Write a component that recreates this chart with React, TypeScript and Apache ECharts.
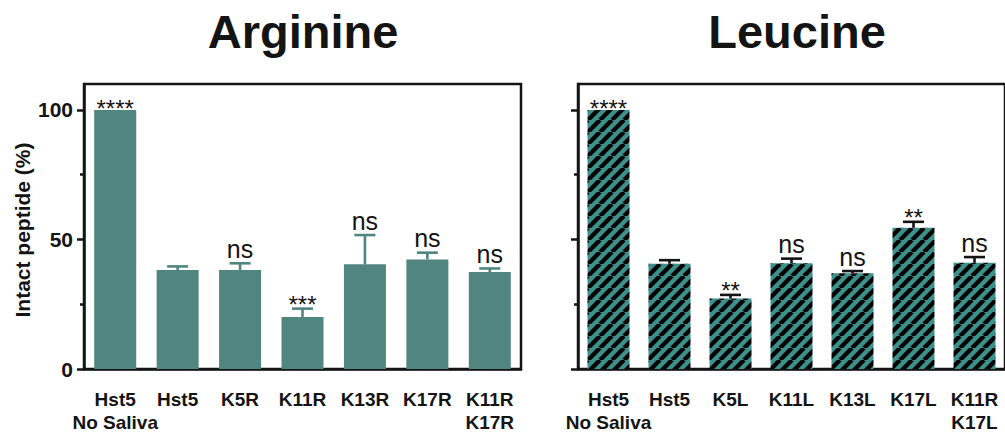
import React, { useEffect, useRef } from "react";
import * as echarts from "echarts";

const FONT = "'Liberation Sans', Arial, Helvetica, sans-serif";

const categoriesArg = ["Hst5\nNo Saliva", "Hst5", "K5R", "K11R", "K13R", "K17R", "K11R\nK17R"];
const valuesArg = [100, 38.2, 38.2, 20.1, 40.4, 42.3, 37.4];
const upperArg = [100, 39.6, 40.8, 23.3, 51.7, 44.9, 38.8];
const sigArg = ["****", "", "ns", "***", "ns", "ns", "ns"];

const categoriesLeu = ["Hst5\nNo Saliva", "Hst5", "K5L", "K11L", "K13L", "K17L", "K11R\nK17L"];
const valuesLeu = [100, 40.6, 27.2, 40.8, 37.0, 54.5, 41.0];
const upperLeu = [100, 42.0, 28.6, 42.6, 37.8, 56.8, 43.2];
const sigLeu = ["****", "", "**", "ns", "ns", "**", "ns"];

const majorTicks = [0, 50, 100];
const minorTicks = [25, 75];

const COLOR_ARG = "#508580";
const COLOR_LEU = "#3c918c";
const INK = "#141414";

function makeStripePattern(): any {
  const p = 12;
  const c = document.createElement("canvas");
  c.width = p;
  c.height = p;
  const ctx = c.getContext("2d");
  if (!ctx) return COLOR_LEU;
  ctx.fillStyle = COLOR_LEU;
  ctx.fillRect(0, 0, p, p);
  ctx.strokeStyle = "#050505";
  ctx.lineWidth = 4.4;
  for (let k = -1; k <= 1; k++) {
    ctx.beginPath();
    ctx.moveTo(k * p, p);
    ctx.lineTo(k * p + p, 0);
    ctx.stroke();
  }
  return { image: c, repeat: "repeat" };
}

function errRender(sigs: string[], errColor: string) {
  return (params: any, api: any) => {
    const i = api.value(0);
    const v = api.value(1);
    const up = api.value(2);
    const base = api.coord([i, v]);
    const top = api.coord([i, up]);
    const children: any[] = [];
    if (up > v) {
      children.push({
        type: "line",
        shape: { x1: top[0], y1: base[1], x2: top[0], y2: top[1] },
        style: { stroke: errColor, lineWidth: 2.6 },
      });
      children.push({
        type: "line",
        shape: { x1: top[0] - 10.5, y1: top[1], x2: top[0] + 10.5, y2: top[1] },
        style: { stroke: errColor, lineWidth: 2.6 },
      });
    }
    const s = sigs[params.dataIndex];
    if (s) {
      const isStar = s.indexOf("*") >= 0;
      let dy = -2;
      if (isStar) dy = up > v ? 8 : 11;
      children.push({
        type: "text",
        style: {
          text: s,
          x: top[0],
          y: top[1] + dy,
          textAlign: "center",
          textVerticalAlign: "bottom",
          fill: INK,
          font: `${isStar ? 24 : 25}px ${FONT}`,
        },
      });
    }
    return { type: "group", children };
  };
}

export default function App() {
  const ref = useRef<HTMLDivElement>(null);
  useEffect(() => {
    if (!ref.current) return;
    const chart = echarts.init(ref.current, null, { renderer: "svg" });
    const gridBase = {
      top: 84,
      width: 437,
      height: 286,
      show: true,
      borderColor: INK,
      borderWidth: 2.5,
      backgroundColor: "transparent",
      containLabel: false,
    };
    const xAxisBase = (cats: string[], gi: number) => ({
      type: "category",
      gridIndex: gi,
      data: cats,
      axisLine: { lineStyle: { color: INK, width: 2.5 } },
      axisTick: { alignWithLabel: true, length: 7, lineStyle: { color: INK, width: 2.5 } },
      axisLabel: {
        fontSize: 19,
        fontWeight: "bold",
        color: INK,
        margin: 19,
        lineHeight: 23,
        fontFamily: FONT,
        interval: 0,
      },
    });
    const yMajor = (gi: number, showLabels: boolean) => ({
      type: "value",
      gridIndex: gi,
      min: 0,
      max: 110,
      interval: 50,
      position: "left",
      splitLine: { show: false },
      axisLine: { show: true, lineStyle: { color: INK, width: 2.5 } },
      axisTick: { show: true, customValues: majorTicks, length: 7, lineStyle: { color: INK, width: 2.5 } },
      axisLabel: {
        show: showLabels,
        customValues: majorTicks,
        fontSize: 21,
        fontWeight: "bold",
        color: INK,
        margin: 11,
        fontFamily: FONT,
      },
    });
    const yMinor = (gi: number) => ({
      type: "value",
      gridIndex: gi,
      min: 0,
      max: 110,
      interval: 50,
      position: "left",
      splitLine: { show: false },
      axisLine: { show: false },
      axisTick: { show: true, customValues: minorTicks, length: 4, lineStyle: { color: INK, width: 2.5 } },
      axisLabel: { show: false },
    });
    const mkErr = (vals: number[], ups: number[]) => vals.map((v, i) => [i, v, ups[i]]);
    chart.setOption({
      animation: false,
      grid: [
        { ...gridBase, left: 84 },
        { ...gridBase, left: 578 },
      ],
      xAxis: [xAxisBase(categoriesArg, 0), xAxisBase(categoriesLeu, 1)],
      yAxis: [yMajor(0, true), yMinor(0), yMajor(1, false), yMinor(1)],
      graphic: [
        {
          type: "text",
          style: {
            text: "Arginine",
            x: 303,
            y: 31,
            textAlign: "center",
            textVerticalAlign: "middle",
            fill: INK,
            font: `bold 47px ${FONT}`,
          },
        },
        {
          type: "text",
          style: {
            text: "Leucine",
            x: 797,
            y: 31,
            textAlign: "center",
            textVerticalAlign: "middle",
            fill: INK,
            font: `bold 47px ${FONT}`,
          },
        },
        {
          type: "text",
          x: 22,
          y: 230,
          rotation: Math.PI / 2,
          style: {
            text: "Intact peptide (%)",
            x: 0,
            y: 0,
            textAlign: "center",
            textVerticalAlign: "middle",
            fill: INK,
            font: `bold 21px ${FONT}`,
          },
        },
      ],
      series: [
        {
          type: "bar",
          xAxisIndex: 0,
          yAxisIndex: 0,
          data: valuesArg,
          barWidth: 42,
          itemStyle: { color: COLOR_ARG },
          z: 2,
        },
        {
          type: "bar",
          xAxisIndex: 1,
          yAxisIndex: 2,
          data: valuesLeu,
          barWidth: 42,
          itemStyle: { color: makeStripePattern() },
          z: 2,
        },
        {
          type: "custom",
          xAxisIndex: 0,
          yAxisIndex: 0,
          data: mkErr(valuesArg, upperArg),
          renderItem: errRender(sigArg, COLOR_ARG),
          z: 5,
        },
        {
          type: "custom",
          xAxisIndex: 1,
          yAxisIndex: 2,
          data: mkErr(valuesLeu, upperLeu),
          renderItem: errRender(sigLeu, INK),
          z: 5,
        },
      ],
    });
    return () => chart.dispose();
  }, []);
  return <div ref={ref} style={{ width: 1005, height: 434, position: "absolute", left: 0, top: 0 }} />;
}
